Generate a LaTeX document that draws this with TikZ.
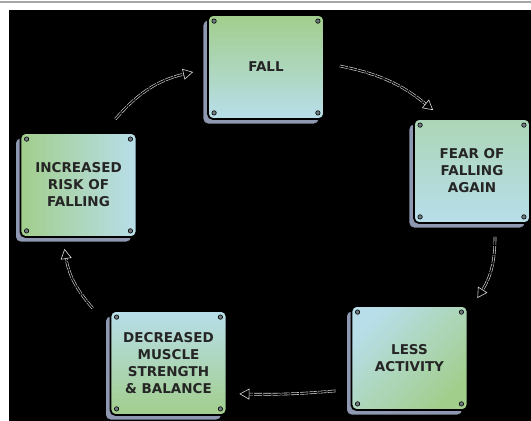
\documentclass[tikz,border=0pt]{standalone}
\usepackage{fontspec}
\setmainfont{DejaVu Sans}
\usetikzlibrary{arrows.meta,shadows,calc}
\definecolor{gr}{HTML}{A2CE8C}
\definecolor{bl}{HTML}{B8DEEA}
\definecolor{slab}{HTML}{8E98B0}
\definecolor{ink}{HTML}{252525}
\definecolor{screw}{HTML}{6E7C80}
\newcommand{\cardscrews}[1]{%
  \foreach \a/\sx/\sy in {north west/7/-7, north east/-7/-7, south west/7/7, south east/-7/7}{%
    \filldraw[fill=screw, draw=black, line width=0.6pt] ([shift={(\sx,\sy)}]#1.\a) circle (2.2);}}
\begin{document}
\begin{tikzpicture}[x=1pt,y=1pt,
  card/.style={rectangle, rounded corners=5pt, draw=black, line width=1.8pt,
    minimum width=116pt, minimum height=104pt, align=center, text=ink,
    font=\bfseries\fontsize{13.5}{17}\selectfont, inner sep=0pt,
    general shadow={shadow xshift=-5pt, shadow yshift=-5pt, fill=slab, draw=black, line width=0.8pt}},
  flow/.style={draw=white!85!black, double=black, double distance=1.4pt, line width=0.6pt,
    dash pattern=on 8pt off 1.2pt, -{Triangle[open,length=10pt,width=11pt]}}]
\useasboundingbox (0,0) rectangle (531,421);
\fill[white] (0,0) rectangle (531,421);
\fill[black] (9,0) rectangle (531,411);
\draw[gray!70, line width=1.2pt] (0,419) -- (531,419);

\node[card, top color=gr, bottom color=bl] (fall) at (266,354) {FALL};
\node[card, top color=gr!55!bl, bottom color=bl] (fear) at (472,250) {FEAR OF\\FALLING\\AGAIN};
\node[card, top color=bl, bottom color=gr, shading angle=45] (less) at (409.5,63) {LESS\\ACTIVITY};
\node[card, top color=bl, bottom color=gr] (decr) at (168.5,58) {DECREASED\\MUSCLE\\STRENGTH\\\& BALANCE};
\node[card, left color=gr, right color=bl] (risk) at (78.5,236) {INCREASED\\RISK OF\\FALLING};

\cardscrews{fall}
\cardscrews{fear}
\cardscrews{less}
\cardscrews{decr}
\cardscrews{risk}

\draw[flow] ([shift={(-22,13)}]risk.north east) to[bend left=18] ([shift={(-14,-5)}]fall.west);
\draw[flow] ([shift={(15,1)}]fall.east) to[bend left=14] ([shift={(20,8)}]fear.north west);
\draw[flow] ([shift={(23,-13)}]fear.south) to[bend left=16] ([shift={(9,7)}]less.north east);
\draw[flow] ([shift={(-15,20)}]less.south west) to[bend left=3] ([shift={(12,22)}]decr.south east);
\draw[flow] ([shift={(-17,2)}]decr.north west) to[bend left=16] ([shift={(-14,-11)}]risk.south);
\end{tikzpicture}
\end{document}
